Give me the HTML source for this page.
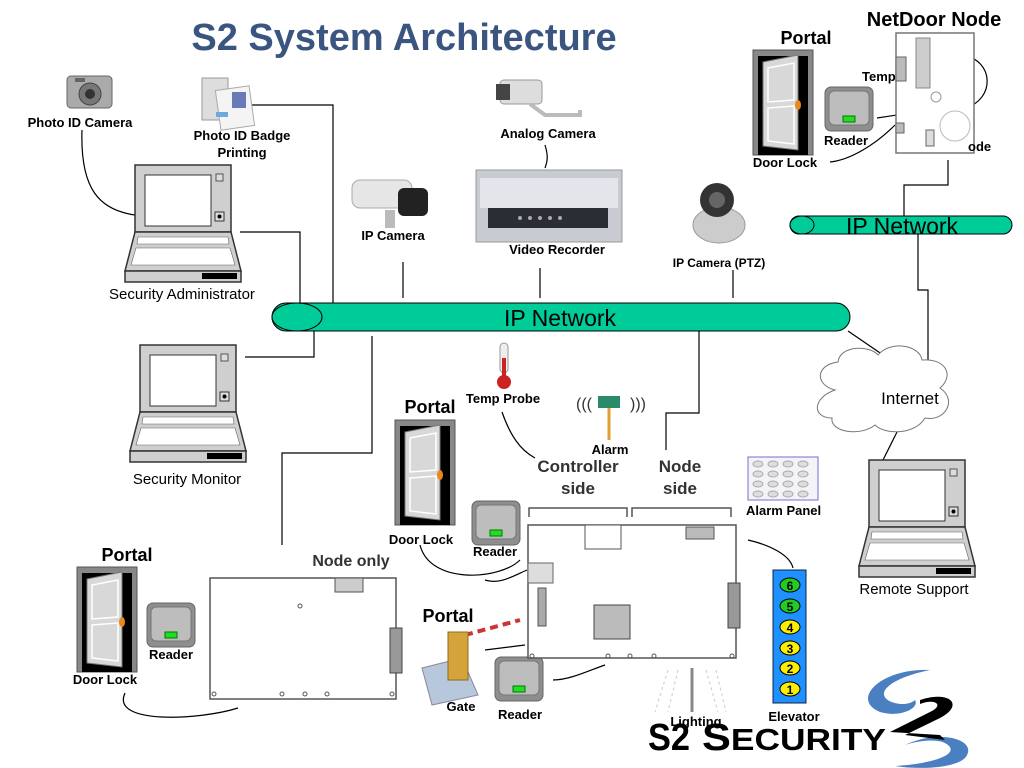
<!DOCTYPE html>
<html><head><meta charset="utf-8"><style>
html,body{margin:0;padding:0;background:#fff;}
svg{display:block;font-family:"Liberation Sans",Arial,sans-serif;}
.b{font-weight:bold;}
</style></head><body>
<svg width="1024" height="768" viewBox="0 0 1024 768" xmlns="http://www.w3.org/2000/svg">
<defs>
<g id="laptop">
 <rect x="10" y="0" width="96" height="67" fill="#cfcfcf" stroke="#333" stroke-width="1.5"/>
 <rect x="20" y="10" width="66" height="51" fill="#fff" stroke="#333"/>
 <rect x="91" y="9" width="7" height="7" fill="#ddd" stroke="#555"/>
 <rect x="90" y="47" width="9" height="9" fill="#ddd" stroke="#333"/>
 <circle cx="94.5" cy="51.5" r="2" fill="#000"/>
 <polygon points="10,67 106,67 116,106 0,106" fill="#cfcfcf" stroke="#333" stroke-width="1.5"/>
 <polygon points="13,72 103,72 104,79 12,79" fill="#fff" stroke="#666" stroke-width=".6"/>
 <polygon points="11,83 105,83 110,100 6,100" fill="#fff" stroke="#666" stroke-width=".6"/>
 <rect x="0" y="106" width="116" height="11" fill="#cfcfcf" stroke="#333" stroke-width="1.5"/>
 <rect x="77" y="108" width="35" height="6" fill="#000"/>
</g>
<g id="door">
 <rect x="0" y="0" width="60" height="105" fill="#888" stroke="#555"/>
 <rect x="5" y="6" width="50" height="99" fill="#000"/>
 <polygon points="10,12 45,5 45,100 10,96" fill="#d8d8d8" stroke="#777"/>
 <polygon points="15,18 41,13 41,50 15,52" fill="none" stroke="#fff" stroke-width="1.5"/>
 <polygon points="15,58 41,56 41,94 15,91" fill="none" stroke="#fff" stroke-width="1.5"/>
 <ellipse cx="45" cy="55" rx="3" ry="5" fill="#e88a1a"/>
</g>
<g id="reader">
 <rect x="0" y="0" width="48" height="44" rx="6" fill="#8e8e8e" stroke="#666"/>
 <rect x="4" y="4" width="40" height="34" rx="5" fill="#bdbdbd" stroke="#777"/>
 <rect x="18" y="29" width="12" height="6" fill="#22dd22" stroke="#070"/>
</g>
</defs>

<text x="404" y="50" text-anchor="middle" class="b" font-size="38" fill="#3a5580">S2 System Architecture</text>

<g fill="none" stroke="#000" stroke-width="1.2">
 <path d="M82,130 C80,190 100,210 135,215"/>
 <path d="M243,105 H333 V303"/>
 <path d="M240,232 H300 V303"/>
 <path d="M245,357 H314 V331"/>
 <path d="M372,336 V453 H282 V545"/>
 <path d="M403,262 V298"/>
 <path d="M540,268 V298"/>
 <path d="M733,270 V298"/>
 <path d="M545,145 C548,155 548,160 545,168"/>
 <path d="M699,331 V413 H666 V450"/>
 <path d="M848,331 L905,370"/>
 <path d="M918,234 V290 H928 V362"/>
 <path d="M904,216 V185 H948 V160"/>
 <path d="M897,432 L882,462"/>
 <path d="M502,412 C510,435 520,450 535,458"/>
 <path d="M125,693 C110,725 200,720 238,708"/>
 <path d="M420,545 C430,585 500,580 520,560"/>
 <path d="M485,580 C500,585 515,575 527,570"/>
 <path d="M553,680 C570,680 590,670 605,665"/>
 <path d="M485,650 L525,645"/>
 <path d="M748,540 C770,545 790,555 793,568"/>
 <path d="M830,162 C850,160 875,145 895,125"/>
 <path d="M877,118 L897,115"/>
 <path d="M962,55 C995,60 995,100 965,108"/>
</g>

<rect x="272" y="303" width="578" height="28" rx="14" fill="#00cc99" stroke="#000"/>
<ellipse cx="297" cy="317" rx="25" ry="14" fill="#00cc99" stroke="#000"/>
<text x="560" y="326" text-anchor="middle" font-size="23">IP Network</text>
<rect x="790" y="216" width="222" height="18" rx="9" fill="#00cc99" stroke="#000"/>
<ellipse cx="802" cy="225" rx="12" ry="9" fill="#00cc99" stroke="#000"/>
<text x="902" y="234" text-anchor="middle" font-size="23">IP Network</text>

<use href="#laptop" x="125" y="165"/>
<text x="182" y="299" text-anchor="middle" font-size="15">Security Administrator</text>
<use href="#laptop" x="130" y="345"/>
<text x="187" y="484" text-anchor="middle" font-size="15">Security Monitor</text>
<use href="#laptop" x="859" y="460"/>
<text x="914" y="594" text-anchor="middle" font-size="15">Remote Support</text>

<g fill="#fff" stroke="#777" stroke-width="1">
 <path d="M835,390 C815,385 815,365 838,362 C840,345 870,345 878,355 C890,340 920,345 922,360 C945,358 955,375 940,388 C958,400 945,422 925,418 C915,435 885,435 875,425 C860,437 830,432 832,418 C812,418 812,398 835,390 Z"/>
</g>
<text x="910" y="404" text-anchor="middle" font-size="17">Internet</text>

<g>
 <rect x="67" y="76" width="45" height="32" rx="4" fill="#aaa" stroke="#666"/>
 <circle cx="90" cy="94" r="11" fill="#777" stroke="#444"/><circle cx="90" cy="94" r="5" fill="#333"/>
 <rect x="75" y="78" width="10" height="4" fill="#666"/>
</g>
<text x="80" y="127" text-anchor="middle" class="b" font-size="13">Photo ID Camera</text>
<g>
 <rect x="202" y="78" width="26" height="42" fill="#ddd" stroke="#999"/>
 <rect x="218" y="88" width="34" height="40" fill="#f4f4f4" stroke="#aaa" transform="rotate(-8 235 108)"/>
 <rect x="232" y="92" width="14" height="16" fill="#6a79b8"/>
 <rect x="216" y="112" width="12" height="5" fill="#6fa8dc"/>
</g>
<text x="242" y="140" text-anchor="middle" class="b" font-size="13">Photo ID Badge</text>
<text x="242" y="157" text-anchor="middle" class="b" font-size="13">Printing</text>

<g>
 <rect x="500" y="80" width="42" height="24" rx="4" fill="#ddd" stroke="#999"/>
 <rect x="496" y="84" width="14" height="16" fill="#444"/>
 <path d="M530,104 L545,115 H580 V110" fill="none" stroke="#bbb" stroke-width="4"/>
</g>
<text x="548" y="138" text-anchor="middle" class="b" font-size="13">Analog Camera</text>
<rect x="476" y="170" width="146" height="72" fill="#c8ccd2" stroke="#999"/>
<rect x="480" y="178" width="138" height="30" fill="#e3e5ea"/>
<rect x="488" y="208" width="120" height="20" fill="#2a2d33"/>
<g fill="#aaa"><circle cx="520" cy="218" r="2"/><circle cx="530" cy="218" r="2"/><circle cx="540" cy="218" r="2"/><circle cx="550" cy="218" r="2"/><circle cx="560" cy="218" r="2"/></g>
<text x="557" y="254" text-anchor="middle" class="b" font-size="13">Video Recorder</text>

<g>
 <rect x="352" y="180" width="60" height="28" rx="8" fill="#e6e6e6" stroke="#aaa"/>
 <rect x="398" y="188" width="30" height="28" rx="6" fill="#222"/>
 <rect x="385" y="210" width="10" height="18" fill="#bbb"/>
</g>
<text x="393" y="240" text-anchor="middle" class="b" font-size="13">IP Camera</text>
<g>
 <ellipse cx="719" cy="225" rx="26" ry="18" fill="#ccc" stroke="#999"/>
 <circle cx="717" cy="200" r="17" fill="#333"/><circle cx="717" cy="200" r="8" fill="#666"/>
</g>
<text x="719" y="267" text-anchor="middle" class="b" font-size="12">IP Camera (PTZ)</text>

<rect x="500" y="343" width="8" height="30" rx="4" fill="#eee" stroke="#999"/>
<rect x="502" y="358" width="4" height="18" fill="#c22"/>
<circle cx="504" cy="382" r="7" fill="#c22"/>
<text x="503" y="403" text-anchor="middle" class="b" font-size="13">Temp Probe</text>
<text x="584" y="409" text-anchor="middle" font-size="16" fill="#333">(((</text>
<rect x="598" y="396" width="22" height="12" fill="#2a8a6a"/>
<text x="638" y="409" text-anchor="middle" font-size="16" fill="#333">)))</text>
<line x1="609" y1="408" x2="609" y2="440" stroke="#e0a030" stroke-width="3"/>
<text x="610" y="454" text-anchor="middle" class="b" font-size="13">Alarm</text>

<text x="430" y="413" text-anchor="middle" class="b" font-size="18">Portal</text>
<use href="#door" x="395" y="420"/>
<text x="421" y="544" text-anchor="middle" class="b" font-size="13">Door Lock</text>
<use href="#reader" x="472" y="501"/>
<text x="495" y="556" text-anchor="middle" class="b" font-size="13">Reader</text>

<text x="127" y="561" text-anchor="middle" class="b" font-size="18">Portal</text>
<use href="#door" x="77" y="567"/>
<text x="105" y="684" text-anchor="middle" class="b" font-size="13">Door Lock</text>
<use href="#reader" x="147" y="603"/>
<text x="171" y="659" text-anchor="middle" class="b" font-size="13">Reader</text>

<text x="448" y="622" text-anchor="middle" class="b" font-size="18">Portal</text>
<polygon points="422,668 462,658 478,695 432,705" fill="#b8c8dc" stroke="#889"/>
<line x1="465" y1="635" x2="520" y2="620" stroke="#c33" stroke-width="4" stroke-dasharray="8 5"/>
<rect x="448" y="632" width="20" height="48" fill="#d4a43a" stroke="#8a6a20"/>
<text x="461" y="711" text-anchor="middle" class="b" font-size="13">Gate</text>
<use href="#reader" x="495" y="657"/>
<text x="520" y="719" text-anchor="middle" class="b" font-size="13">Reader</text>

<text x="806" y="44" text-anchor="middle" class="b" font-size="18">Portal</text>
<use href="#door" x="753" y="50"/>
<text x="785" y="167" text-anchor="middle" class="b" font-size="13">Door Lock</text>
<use href="#reader" x="825" y="87"/>
<text x="846" y="145" text-anchor="middle" class="b" font-size="13">Reader</text>

<text x="934" y="26" text-anchor="middle" class="b" font-size="20">NetDoor Node</text>
<rect x="896" y="33" width="78" height="120" fill="#fff" stroke="#777" stroke-width="1.5"/>
<rect x="916" y="38" width="14" height="50" fill="#ccc" stroke="#888"/>
<rect x="896" y="57" width="10" height="24" fill="#bbb" stroke="#666"/>
<circle cx="955" cy="126" r="15" fill="none" stroke="#bbb"/>
<circle cx="936" cy="97" r="5" fill="none" stroke="#999"/>
<rect x="926" y="130" width="8" height="16" fill="#ddd" stroke="#666"/>
<rect x="896" y="123" width="8" height="10" fill="#bbb" stroke="#666"/>
<text x="862" y="81" class="b" font-size="13">Temp</text>
<text x="968" y="151" class="b" font-size="13">ode</text>

<text x="578" y="472" text-anchor="middle" class="b" font-size="17" fill="#333">Controller</text>
<text x="578" y="494" text-anchor="middle" class="b" font-size="17" fill="#333">side</text>
<text x="680" y="472" text-anchor="middle" class="b" font-size="17" fill="#333">Node</text>
<text x="680" y="494" text-anchor="middle" class="b" font-size="17" fill="#333">side</text>
<path d="M529,517 V508 H627 V517 M632,517 V508 H731 V517" fill="none" stroke="#555" stroke-width="1.5"/>
<rect x="528" y="525" width="208" height="133" fill="#fff" stroke="#555" stroke-width="1.5"/>
<rect x="585" y="525" width="36" height="24" fill="#fff" stroke="#555"/>
<rect x="528" y="563" width="25" height="20" fill="#ddd" stroke="#666"/>
<rect x="538" y="588" width="8" height="38" fill="#aaa" stroke="#555"/>
<rect x="594" y="605" width="36" height="34" fill="#bbb" stroke="#444"/>
<rect x="686" y="527" width="28" height="12" fill="#bbb" stroke="#555"/>
<rect x="728" y="583" width="12" height="45" fill="#999" stroke="#444"/>
<g fill="none" stroke="#555"><circle cx="532" cy="656" r="2"/><circle cx="608" cy="656" r="2"/><circle cx="630" cy="656" r="2"/><circle cx="654" cy="656" r="2"/><circle cx="732" cy="656" r="2"/></g>

<text x="351" y="566" text-anchor="middle" class="b" font-size="16" fill="#333">Node only</text>
<rect x="210" y="578" width="186" height="121" fill="#fff" stroke="#555" stroke-width="1.5"/>
<rect x="335" y="578" width="28" height="14" fill="#ccc" stroke="#555"/>
<rect x="390" y="628" width="12" height="45" fill="#999" stroke="#444"/>
<g fill="none" stroke="#555"><circle cx="214" cy="694" r="2"/><circle cx="282" cy="694" r="2"/><circle cx="305" cy="694" r="2"/><circle cx="327" cy="694" r="2"/><circle cx="392" cy="694" r="2"/><circle cx="300" cy="606" r="2"/></g>

<rect x="748" y="457" width="70" height="43" fill="#f4f4f8" stroke="#7070d0"/>
<g fill="#ddd" stroke="#aaa"><ellipse cx="758" cy="464" rx="5" ry="3"/><ellipse cx="773" cy="464" rx="5" ry="3"/><ellipse cx="788" cy="464" rx="5" ry="3"/><ellipse cx="803" cy="464" rx="5" ry="3"/><ellipse cx="758" cy="474" rx="5" ry="3"/><ellipse cx="773" cy="474" rx="5" ry="3"/><ellipse cx="788" cy="474" rx="5" ry="3"/><ellipse cx="803" cy="474" rx="5" ry="3"/><ellipse cx="758" cy="484" rx="5" ry="3"/><ellipse cx="773" cy="484" rx="5" ry="3"/><ellipse cx="788" cy="484" rx="5" ry="3"/><ellipse cx="803" cy="484" rx="5" ry="3"/><ellipse cx="758" cy="494" rx="5" ry="3"/><ellipse cx="773" cy="494" rx="5" ry="3"/><ellipse cx="788" cy="494" rx="5" ry="3"/><ellipse cx="803" cy="494" rx="5" ry="3"/></g>
<text x="746" y="515" class="b" font-size="13">Alarm Panel</text>

<rect x="773" y="570" width="33" height="133" fill="#1e90ff" stroke="#124"/>
<g fill="#22cc22" stroke="#000"><ellipse cx="790" cy="585" rx="10" ry="7"/><ellipse cx="790" cy="606" rx="10" ry="7"/></g>
<g fill="#ffee00" stroke="#000"><ellipse cx="790" cy="627" rx="10" ry="7"/><ellipse cx="790" cy="648" rx="10" ry="7"/><ellipse cx="790" cy="668" rx="10" ry="7"/><ellipse cx="790" cy="689" rx="10" ry="7"/></g>
<g class="b" font-size="12" text-anchor="middle"><text x="790" y="590">6</text><text x="790" y="611">5</text><text x="790" y="632">4</text><text x="790" y="653">3</text><text x="790" y="673">2</text><text x="790" y="694">1</text></g>
<text x="794" y="721" text-anchor="middle" class="b" font-size="13">Elevator</text>

<line x1="692" y1="668" x2="692" y2="712" stroke="#888" stroke-width="3"/>
<g stroke="#ccc" stroke-dasharray="3 3"><line x1="668" y1="670" x2="655" y2="712"/><line x1="678" y1="670" x2="668" y2="712"/><line x1="706" y1="670" x2="718" y2="712"/><line x1="716" y1="670" x2="726" y2="712"/></g>
<text x="696" y="726" text-anchor="middle" class="b" font-size="13">Lighting</text>

<text x="648" y="750" class="b" font-size="38" textLength="42" lengthAdjust="spacingAndGlyphs">S2</text>
<text x="702" y="750" class="b" font-size="38" textLength="184" lengthAdjust="spacingAndGlyphs">S<tspan font-size="31">ECURITY</tspan></text>
<path d="M930,670 C880,668 850,700 880,712 C900,718 920,708 915,700 C905,710 870,700 890,685 C900,677 920,672 930,670 Z" fill="#4a7fc1"/>
<path d="M905,745 C940,728 980,740 965,758 C955,768 920,770 895,766 C930,764 960,755 948,745 C940,738 920,740 905,745 Z" fill="#4a7fc1"/>
<path d="M920,700 C950,690 965,705 940,718 L905,735 L945,740 L940,735 L890,732 L930,712 C945,705 935,698 920,704 Z" fill="#000"/>
</svg>
</body></html>
